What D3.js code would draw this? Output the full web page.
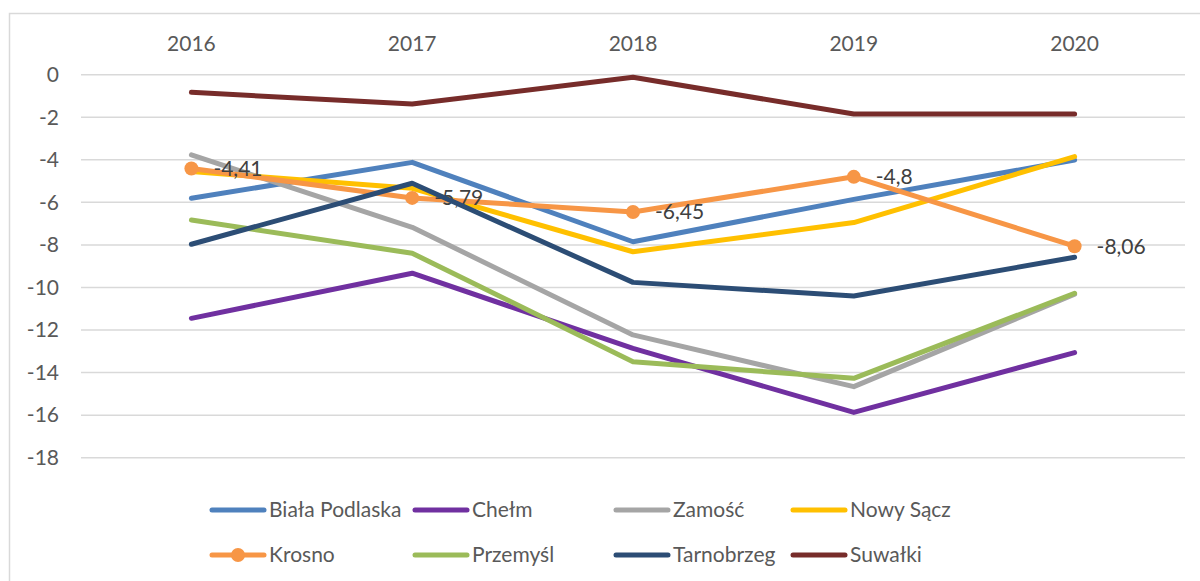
<!DOCTYPE html>
<html>
<head>
<meta charset="utf-8">
<script src="https://cdn.jsdelivr.net/npm/d3@7"></script>
<style>
  body { margin: 0; background: #fff; }
  text { font-family: Lato, "Open Sans", sans-serif; }
</style>
</head>
<body>
<svg width="1200" height="581"></svg>
<script>
// data
const years = ["2016", "2017", "2018", "2019", "2020"];
const yTicks = [0, -2, -4, -6, -8, -10, -12, -14, -16, -18];

const bialaPodlaska = [-5.81, -4.12, -7.85, -5.86, -4.01];
const chelm = [-11.45, -9.33, -12.86, -15.87, -13.06];
const zamosc = [-3.77, -7.17, -12.23, -14.66, -10.32];
const nowySacz = [-4.55, -5.34, -8.32, -6.95, -3.85];
const krosno = [-4.41, -5.79, -6.45, -4.8, -8.06];
const przemysl = [-6.83, -8.39, -13.49, -14.27, -10.27];
const tarnobrzeg = [-7.97, -5.1, -9.76, -10.4, -8.58];
const suwalki = [-0.83, -1.38, -0.12, -1.85, -1.85];

const krosnoLabels = ["-4,41", "-5,79", "-6,45", "-4,8", "-8,06"];

const series = [
  { name: "Biała Podlaska", values: bialaPodlaska, color: "#4f81bd" },
  { name: "Chełm", values: chelm, color: "#7030a0" },
  { name: "Zamość", values: zamosc, color: "#a5a5a5" },
  { name: "Nowy Sącz", values: nowySacz, color: "#ffc000" },
  { name: "Krosno", values: krosno, color: "#f79646", markers: true },
  { name: "Przemyśl", values: przemysl, color: "#9bbb59" },
  { name: "Tarnobrzeg", values: tarnobrzeg, color: "#2c4d75" },
  { name: "Suwałki", values: suwalki, color: "#772c2a" }
];

const svg = d3.select("svg");

// chart frame
svg.append("rect")
  .attr("x", 9.5)
  .attr("y", 13.5)
  .attr("width", 1200)
  .attr("height", 600)
  .attr("fill", "none")
  .attr("stroke", "#d9d9d9")
  .attr("stroke-width", 1.5);

const x = d3.scaleBand()
  .domain(years)
  .range([81, 1185]);

const y = d3.scaleLinear()
  .domain([-18, 0])
  .range([457.7, 74.7]);

// gridlines
svg.append("g")
  .selectAll("line")
  .data(yTicks)
  .join("line")
  .attr("x1", 81)
  .attr("x2", 1185)
  .attr("y1", d => y(d))
  .attr("y2", d => y(d))
  .attr("stroke", "#d9d9d9")
  .attr("stroke-width", 1.5);

// y labels
svg.append("g")
  .selectAll("text")
  .data(yTicks)
  .join("text")
  .attr("x", 59)
  .attr("y", d => y(d))
  .attr("dy", "0.35em")
  .attr("text-anchor", "end")
  .attr("font-size", 21)
  .attr("fill", "#595959")
  .text(d => d);

// year labels at top
svg.append("g")
  .selectAll("text")
  .data(years)
  .join("text")
  .attr("x", d => x(d) + x.bandwidth() / 2)
  .attr("y", 44)
  .attr("dy", "0.35em")
  .attr("text-anchor", "middle")
  .attr("font-size", 21)
  .attr("fill", "#595959")
  .text(d => d);

const line = d3.line()
  .x((d, i) => x(years[i]) + x.bandwidth() / 2)
  .y(d => y(d));

series.forEach(function (s) {
  svg.append("path")
    .attr("d", line(s.values))
    .attr("fill", "none")
    .attr("stroke", s.color)
    .attr("stroke-width", 5)
    .attr("stroke-linecap", "round")
    .attr("stroke-linejoin", "round");

  if (s.markers) {
    svg.append("g")
      .selectAll("circle")
      .data(s.values)
      .join("circle")
      .attr("cx", (d, i) => x(years[i]) + x.bandwidth() / 2)
      .attr("cy", d => y(d))
      .attr("r", 7)
      .attr("fill", s.color);

    svg.append("g")
      .selectAll("text")
      .data(s.values)
      .join("text")
      .attr("x", (d, i) => x(years[i]) + x.bandwidth() / 2 + 22)
      .attr("y", d => y(d))
      .attr("dy", "0.35em")
      .attr("font-size", 21)
      .attr("fill", "#404040")
      .text((d, i) => krosnoLabels[i]);
  }
});

// legend
const colX = [212, 415, 616, 793];
const rowY = [510, 555];

series.forEach(function (s, i) {
  const lx = colX[i % 4];
  const ly = rowY[Math.floor(i / 4)];
  const g = svg.append("g");
  g.append("line")
    .attr("x1", lx)
    .attr("x2", lx + 52)
    .attr("y1", ly)
    .attr("y2", ly)
    .attr("stroke", s.color)
    .attr("stroke-width", 5)
    .attr("stroke-linecap", "round");
  if (s.markers) {
    g.append("circle")
      .attr("cx", lx + 26)
      .attr("cy", ly)
      .attr("r", 7)
      .attr("fill", s.color);
  }
  g.append("text")
    .attr("x", lx + 57)
    .attr("y", ly)
    .attr("dy", "0.35em")
    .attr("font-size", 21)
    .attr("fill", "#595959")
    .text(s.name);
});
</script>
</body>
</html>
